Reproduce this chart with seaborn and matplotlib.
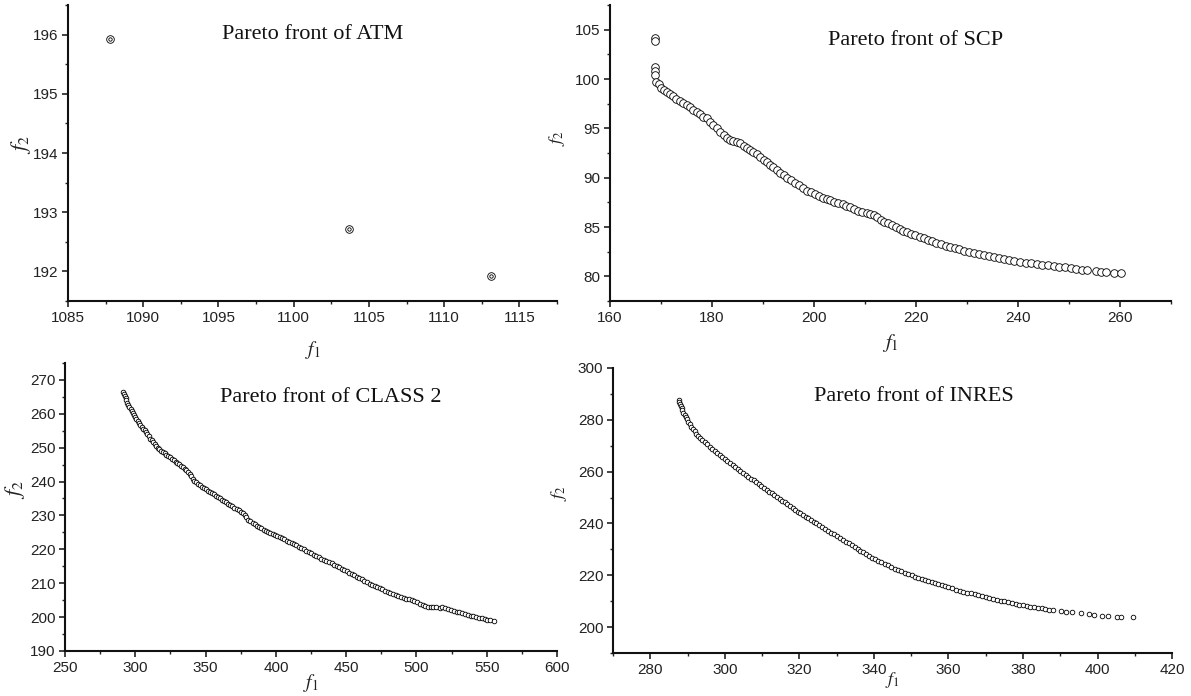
import matplotlib
matplotlib.use("Agg")
import matplotlib.pyplot as plt
from matplotlib.ticker import MultipleLocator
import pandas as pd
import seaborn as sns

# ---- Pareto front samples (f1, f2) for each instance ----
atm_f1 = [1087.8, 1103.7, 1113.1]
atm_f2 = [195.92, 192.72, 191.93]

scp_f1 = [
    168.8, 168.8, 168.9, 168.9, 168.9, 169.0, 169.6, 170.0, 170.5, 171.1,
    171.7, 172.4, 173.0, 173.7, 174.3, 175.0, 175.7, 176.3, 177.0, 177.6,
    178.3, 179.0, 179.6, 180.2, 180.9, 181.6, 182.3, 183.0, 183.6, 184.2,
    184.9, 185.5, 186.2, 186.8, 187.5, 188.1, 188.8, 189.5, 190.1, 190.7,
    191.4, 192.0, 192.7, 193.4, 194.1, 194.8, 195.5, 196.3, 197.0, 197.8,
    198.6, 199.4, 200.2, 201.0, 201.8, 202.5, 203.2, 204.0, 204.8, 205.6,
    206.3, 207.1, 207.9, 208.7, 209.5, 210.3, 211.0, 211.7, 212.4, 213.1,
    213.8, 214.5, 215.2, 216.0, 216.8, 217.5, 218.3, 219.1, 219.9, 220.7,
    221.5, 222.3, 223.1, 224.0, 224.9, 225.8, 226.7, 227.6, 228.5, 229.4,
    230.3, 231.3, 232.3, 233.3, 234.3, 235.3, 236.3, 237.3, 238.3, 239.3,
    240.4, 241.5, 242.6, 243.7, 244.8, 245.9, 247.0, 248.1, 249.2, 250.3,
    251.4, 252.5, 253.6, 255.3, 256.3, 257.3, 258.8, 260.1,
]
scp_f2 = [
    104.2, 103.9, 101.2, 100.8, 100.4, 99.7, 99.5, 99.1, 98.9, 98.7,
    98.5, 98.3, 98.0, 97.8, 97.6, 97.4, 97.2, 96.9, 96.7, 96.5,
    96.2, 96.0, 95.6, 95.3, 95.0, 94.6, 94.3, 94.0, 93.8, 93.7,
    93.6, 93.5, 93.2, 93.0, 92.8, 92.6, 92.4, 92.1, 91.8, 91.6,
    91.3, 91.1, 90.8, 90.5, 90.3, 90.0, 89.8, 89.5, 89.3, 89.0,
    88.7, 88.5, 88.3, 88.1, 87.9, 87.8, 87.7, 87.5, 87.4, 87.3,
    87.1, 87.0, 86.8, 86.6, 86.5, 86.4, 86.3, 86.2, 86.0, 85.7,
    85.5, 85.4, 85.2, 85.0, 84.8, 84.6, 84.5, 84.3, 84.2, 84.0,
    83.9, 83.7, 83.6, 83.4, 83.3, 83.1, 83.0, 82.9, 82.8, 82.6,
    82.5, 82.4, 82.3, 82.2, 82.1, 82.0, 81.9, 81.8, 81.7, 81.6,
    81.5, 81.4, 81.35, 81.3, 81.2, 81.1, 81.0, 80.95, 80.9, 80.8,
    80.7, 80.65, 80.6, 80.5, 80.45, 80.4, 80.35, 80.3,
]

class2_f1 = [
    291.4, 291.9, 292.5, 293.1, 293.7, 294.4, 295.1, 295.8, 296.6, 297.4,
    298.2, 299.0, 299.9, 300.8, 301.7, 302.6, 303.6, 304.6, 305.6, 306.6,
    307.6, 308.6, 309.6, 310.6, 311.6, 312.6, 313.7, 314.8, 316.0, 317.2,
    318.4, 319.6, 320.8, 322.1, 323.4, 324.7, 326.0, 327.3, 328.6, 329.9,
    331.2, 332.5, 333.8, 335.1, 336.4, 337.6, 338.8, 339.9, 341.0, 342.1,
    343.2, 344.6, 346.0, 347.4, 348.8, 350.2, 351.6, 353.0, 354.4, 355.8,
    357.2, 358.6, 360.0, 361.5, 363.0, 364.5, 366.0, 367.5, 369.0, 370.5,
    372.0, 373.5, 375.0, 376.4, 377.7, 379.0, 380.4, 381.9, 383.4, 384.9,
    386.5, 388.1, 389.7, 391.3, 392.9, 394.5, 396.1, 397.7, 399.3, 401.0,
    402.7, 404.4, 406.1, 407.8, 409.5, 411.2, 412.9, 414.6, 416.3, 418.0,
    419.8, 421.6, 423.4, 425.2, 427.0, 428.8, 430.6, 432.4, 434.2, 436.0,
    437.8, 439.6, 441.4, 443.2, 445.0, 446.8, 448.6, 450.4, 452.2, 454.0,
    455.8, 457.6, 459.4, 461.2, 463.0, 464.8, 466.6, 468.4, 470.2, 472.0,
    473.9, 475.8, 477.7, 479.6, 481.5, 483.4, 485.3, 487.2, 489.1, 491.0,
    492.9, 494.8, 496.7, 498.6, 500.5, 502.4, 504.3, 506.2, 508.1, 510.0,
    512.0, 514.0, 516.8, 518.5, 520.5, 522.5, 524.5, 526.5, 528.5, 530.5,
    532.5, 534.5, 536.5, 538.5, 540.5, 542.5, 544.5, 546.5, 548.5, 550.5,
    552.5, 555.0,
]
class2_f2 = [
    266.5, 265.9, 265.2, 264.6, 264.0, 263.3, 262.7, 262.1, 261.4, 260.8,
    260.2, 259.6, 259.0, 258.4, 257.8, 257.3, 256.8, 256.2, 255.6, 255.1,
    254.5, 253.9, 253.3, 252.7, 252.2, 251.6, 251.0, 250.5, 250.0, 249.5,
    249.1, 248.7, 248.3, 247.9, 247.5, 247.1, 246.7, 246.3, 245.9, 245.5,
    245.1, 244.7, 244.2, 243.8, 243.3, 242.7, 242.1, 241.5, 240.9, 240.3,
    239.8, 239.3, 238.9, 238.5, 238.1, 237.7, 237.3, 237.0, 236.6, 236.2,
    235.8, 235.4, 235.0, 234.7, 234.3, 233.9, 233.5, 233.1, 232.7, 232.3,
    231.9, 231.5, 231.1, 230.6, 230.0, 229.4, 228.8, 228.3, 227.8, 227.4,
    227.0, 226.6, 226.2, 225.8, 225.4, 225.1, 224.8, 224.4, 224.1, 223.8,
    223.5, 223.2, 222.9, 222.6, 222.3, 222.0, 221.6, 221.2, 220.8, 220.4,
    220.0, 219.6, 219.2, 218.8, 218.3, 217.9, 217.6, 217.2, 216.9, 216.6,
    216.2, 215.9, 215.5, 215.1, 214.7, 214.3, 213.9, 213.5, 213.1, 212.7,
    212.3, 211.9, 211.5, 211.1, 210.7, 210.3, 209.9, 209.5, 209.1, 208.8,
    208.5, 208.2, 207.8, 207.4, 207.0, 206.7, 206.5, 206.2, 205.9, 205.6,
    205.4, 205.2, 205.0, 204.8, 204.4, 204.0, 203.6, 203.3, 203.1, 203.0,
    202.9, 202.85, 202.8, 202.9, 202.7, 202.4, 202.1, 201.9, 201.6, 201.4,
    201.2, 200.9, 200.6, 200.4, 200.2, 200.0, 199.8, 199.6, 199.4, 199.2,
    199.1, 198.9,
]

inres_f1 = [
    287.7, 287.8, 288.0, 288.2, 288.4, 288.6, 288.9, 289.2, 289.5, 289.8,
    290.2, 290.6, 291.0, 291.4, 291.9, 292.4, 292.9, 293.4, 294.0, 294.6,
    295.2, 295.9, 296.6, 297.3, 298.0, 298.6, 299.3, 300.0, 300.7, 301.4,
    302.1, 302.8, 303.5, 304.2, 304.9, 305.6, 306.3, 307.0, 307.7, 308.4,
    309.1, 309.8, 310.5, 311.2, 311.9, 312.6, 313.3, 314.0, 314.7, 315.4,
    316.1, 316.8, 317.5, 318.2, 318.9, 319.6, 320.3, 321.0, 321.7, 322.4,
    323.1, 323.8, 324.5, 325.2, 326.0, 326.8, 327.6, 328.4, 329.2, 330.0,
    330.8, 331.6, 332.4, 333.2, 334.0, 334.8, 335.6, 336.4, 337.2, 338.0,
    338.8, 339.6, 340.4, 341.2, 342.0, 342.9, 343.8, 344.7, 345.6, 346.5,
    347.4, 348.3, 349.2, 350.1, 351.0, 351.9, 352.8, 353.7, 354.6, 355.5,
    356.4, 357.3, 358.2, 359.1, 360.0, 361.0, 362.0, 363.0, 364.0, 365.0,
    366.0, 367.0, 368.0, 369.0, 370.0, 371.0, 372.0, 373.0, 374.0, 375.0,
    376.0, 377.0, 378.0, 379.0, 380.0, 381.0, 382.0, 383.0, 384.0, 385.0,
    386.0, 387.0, 388.1, 390.3, 391.6, 393.1, 395.5, 397.7, 399.1, 401.1,
    402.9, 405.3, 406.3, 409.5,
]
inres_f2 = [
    287.7, 286.9, 286.0, 285.2, 284.4, 283.6, 282.8, 282.0, 281.1, 280.3,
    279.3, 278.3, 277.4, 276.3, 275.5, 274.6, 273.8, 273.0, 272.1, 271.3,
    270.5, 269.6, 268.8, 268.0, 267.2, 266.5, 265.7, 264.9, 264.1, 263.4,
    262.6, 261.9, 261.1, 260.3, 259.6, 258.8, 258.1, 257.3, 256.6, 255.9,
    255.2, 254.4, 253.7, 253.0, 252.3, 251.6, 250.9, 250.2, 249.5, 248.8,
    248.1, 247.4, 246.7, 246.0, 245.3, 244.6, 243.9, 243.2, 242.6, 242.0,
    241.3, 240.7, 240.0, 239.4, 238.7, 237.9, 237.2, 236.5, 235.8, 235.1,
    234.4, 233.7, 233.0, 232.3, 231.6, 230.9, 230.2, 229.5, 228.8, 228.2,
    227.5, 226.8, 226.2, 225.6, 225.0, 224.4, 223.8, 223.2, 222.6, 222.0,
    221.5, 221.0, 220.5, 220.0, 219.5, 219.0, 218.6, 218.1, 217.7, 217.3,
    216.9, 216.5, 216.1, 215.7, 215.3, 214.9, 214.5, 214.1, 213.7, 213.3,
    213.0, 212.6, 212.2, 211.9, 211.5, 211.2, 210.9, 210.5, 210.2, 209.9,
    209.6, 209.3, 209.0, 208.7, 208.4, 208.2, 207.9, 207.7, 207.4, 207.2,
    207.0, 206.7, 206.5, 206.1, 205.9, 205.7, 205.3, 204.9, 204.6, 204.3,
    204.2, 204.0, 204.0, 203.8,
]

titles = ["Pareto front of ATM", "Pareto front of SCP",
          "Pareto front of CLASS 2", "Pareto front of INRES"]

sns.set_theme(style="ticks")
plt.rcParams["font.family"] = ["Liberation Sans", "DejaVu Sans"]
plt.rcParams["mathtext.fontset"] = "stix"

fig = plt.figure(figsize=(11.91, 6.96), dpi=100)

panels = [
    dict(f1=atm_f1, f2=atm_f2, rect=[0.0571, 0.5675, 0.4106, 0.4253],
         xlim=(1085, 1117.5), ylim=(191.5, 196.5), xmaj=5, xmin=2.5, ymaj=1, ymin=0.5,
         size=30, title_xy=(0.50, 0.90), xlab_pad=10, ylab_xy=(-0.072, 0.53), lab_fs=(14, 16)),
    dict(f1=scp_f1, f2=scp_f2, rect=[0.5122, 0.5675, 0.4710, 0.4253],
         xlim=(160, 270), ylim=(77.5, 107.5), xmaj=20, xmin=10, ymaj=5, ymin=2.5,
         size=30, title_xy=(0.545, 0.88), xlab_pad=5, ylab_xy=(-0.077, 0.55), lab_fs=(15, 13)),
    dict(f1=class2_f1, f2=class2_f2, rect=[0.0546, 0.0647, 0.4131, 0.4138],
         xlim=(250, 600), ylim=(190, 275), xmaj=50, xmin=25, ymaj=10, ymin=5,
         size=11, title_xy=(0.54, 0.88), xlab_pad=-2, ylab_xy=(-0.078, 0.56), lab_fs=(14, 16)),
    dict(f1=inres_f1, f2=inres_f2, rect=[0.5147, 0.0618, 0.4694, 0.4095],
         xlim=(270, 420), ylim=(190, 300), xmaj=20, xmin=10, ymaj=20, ymin=10,
         size=11, title_xy=(0.538, 0.90), xlab_pad=-5, ylab_xy=(-0.079, 0.56), lab_fs=(13, 13)),
]

for i, (p, title) in enumerate(zip(panels, titles)):
    ax = fig.add_axes(p["rect"])
    df = pd.DataFrame({"f1": p["f1"], "f2": p["f2"]})
    sns.scatterplot(data=df, x="f1", y="f2", ax=ax, marker="o", s=p["size"],
                    color="white", edgecolor="black", linewidth=0.6, zorder=3)
    if i == 0:
        # ATM points are drawn as double rings
        sns.scatterplot(data=df, x="f1", y="f2", ax=ax, marker="o", s=6,
                        color="white", edgecolor="black", linewidth=0.6, zorder=4)
    ax.set_xlim(*p["xlim"])
    ax.set_ylim(*p["ylim"])
    ax.xaxis.set_major_locator(MultipleLocator(p["xmaj"]))
    ax.xaxis.set_minor_locator(MultipleLocator(p["xmin"]))
    ax.yaxis.set_major_locator(MultipleLocator(p["ymaj"]))
    ax.yaxis.set_minor_locator(MultipleLocator(p["ymin"]))
    ax.tick_params(which="major", direction="out", length=4, width=1.2,
                   labelsize=11, colors="#222222", pad=3)
    ax.tick_params(which="minor", direction="out", length=2.5, width=1.0, colors="#222222")
    for side in ("left", "bottom"):
        ax.spines[side].set_linewidth(1.5)
        ax.spines[side].set_color("#111111")
    sns.despine(ax=ax)
    ax.set_xlabel(r"$f_1$", fontsize=p["lab_fs"][0], labelpad=p["xlab_pad"], color="#222222")
    ax.set_ylabel(r"$f_2$", fontsize=p["lab_fs"][1], color="#222222")
    ax.yaxis.set_label_coords(*p["ylab_xy"])
    ax.text(p["title_xy"][0], p["title_xy"][1], title, transform=ax.transAxes,
            ha="center", va="center", fontsize=16, family="Liberation Serif",
            color="#111111")

fig.savefig("out.png", dpi=100)
